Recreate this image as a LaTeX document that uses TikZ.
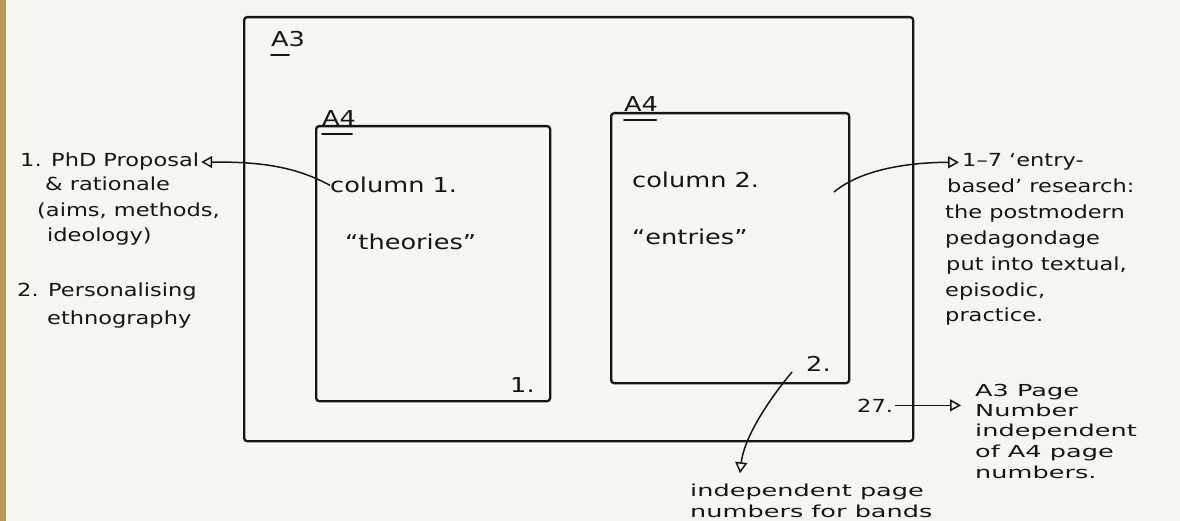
\documentclass[tikz,border=0pt]{standalone}
\usepackage{fontspec}
\setmainfont{DejaVu Sans}
\newfontfamily\handfont{DejaVu Sans}[FakeStretch=1.25]
\newfontfamily\widehand{DejaVu Sans}[FakeStretch=1.55]
\usetikzlibrary{arrows.meta}
\definecolor{paper}{HTML}{F6F6F4}
\definecolor{ink}{HTML}{161616}
\definecolor{binding}{HTML}{B8985A}
\begin{document}
\begin{tikzpicture}[x=1pt,y=-1pt,
  sheet/.style={draw=ink, line width=2.3pt, rounded corners=3pt, inner sep=0pt, anchor=north west},
  hand/.style={text=ink, inner sep=0pt, anchor=base west, font=\handfont\fontsize{18}{22}\selectfont},
  big/.style={hand, font=\handfont\fontsize{20.5}{24}\selectfont},
  note/.style={hand, font=\widehand\fontsize{16.5}{20}\selectfont},
  link/.style={draw=ink, line width=1.5pt, -{Triangle[open,length=11pt,width=12pt,line width=1.5pt]}},
  uline/.style={draw=ink, line width=2pt, line cap=round}]
% paper and bound edge
\useasboundingbox (0,0) rectangle (1180,521);
\fill[paper] (0,0) rectangle (1180,521);
\fill[binding] (0,0) rectangle (6,521);

% sheets
\node[sheet, minimum width=669pt, minimum height=424pt] (a3) at (243,16) {};
\node[sheet, minimum width=234pt, minimum height=275pt] (s1) at (315,125) {};
\node[sheet, minimum width=238pt, minimum height=270pt] (s2) at (610,112) {};

% sheet labels
\node[big] (a3lab) at (271,47) {A3};
\node[big] (s1lab) at (322,126) {A4};
\node[big] (s2lab) at (624,112) {A4};
\draw[uline] ([yshift=-8pt]a3lab.base west) -- ++(18,0);
\draw[uline] ([yshift=-8pt]s1lab.base west) -- ++(30,0);
\draw[uline] ([yshift=-8pt]s2lab.base west) -- ++(32,0);

% column titles
\node[big] (col1) at (330,193) {column 1.};
\node[big] (th) at (345,250) {“theories”};
\node[big] (col2) at (632,188) {column 2.};
\node[big] (en) at (632,245) {“entries”};

% page numbers
\node[big] (p1) at (510,392) {1.};
\node[big] (p2) at (806,371) {2.};
\node[hand] (p27) at (857,412) {27.};

% left notes
\node[hand] (l1) at (20,167) {1. PhD Proposal};
\node[hand] (l1b) at (45,191) {\& rationale};
\node[hand] (l1c) at (37,217) {(aims, methods,};
\node[hand] (l1d) at (47,242) {ideology)};
\node[hand] (l2) at (17,297) {2. Personalising};
\node[hand] (l2b) at (47,324) {ethnography};

% right notes
\node[hand] (r1) at (962,167) {1–7 ‘entry-};
\node[hand] (r2) at (947,193) {based’ research:};
\node[hand] (r3) at (945,219) {the postmodern};
\node[hand] (r4) at (945,245) {pedagondage};
\node[hand] (r5) at (946,270) {put into textual,};
\node[hand] (r6) at (945,296) {episodic,};
\node[hand] (r7) at (945,321) {practice.};

\node[note] (n1) at (975,396) {A3 Page};
\node[note] (n2) at (975,416) {Number};
\node[note] (n3) at (975,436) {independent};
\node[note] (n4) at (975,457) {of A4 page};
\node[note] (n5) at (975,478) {numbers.};

\node[note] (b1) at (690,496) {independent page};
\node[note] (b2) at (690,517) {numbers for bands};

% connectors
\coordinate (c2tail) at (834,192);
\coordinate (p2tail) at (792,372);
\draw[link, shorten >=2pt] (col1.west) .. controls +(-40,-22) and +(50,0) .. (l1.east);
\draw[link, shorten >=3pt] (c2tail) .. controls +(30,-25) and +(-45,0) .. (r1.west);
\draw[link] (p2tail) .. controls +(-25,30) and +(4,-35) .. ([xshift=50pt,yshift=10pt]b1.north west);
\draw[link, shorten <=2pt, shorten >=14pt] (p27.east) -- (p27.east -| n1.west);
\end{tikzpicture}
\end{document}
